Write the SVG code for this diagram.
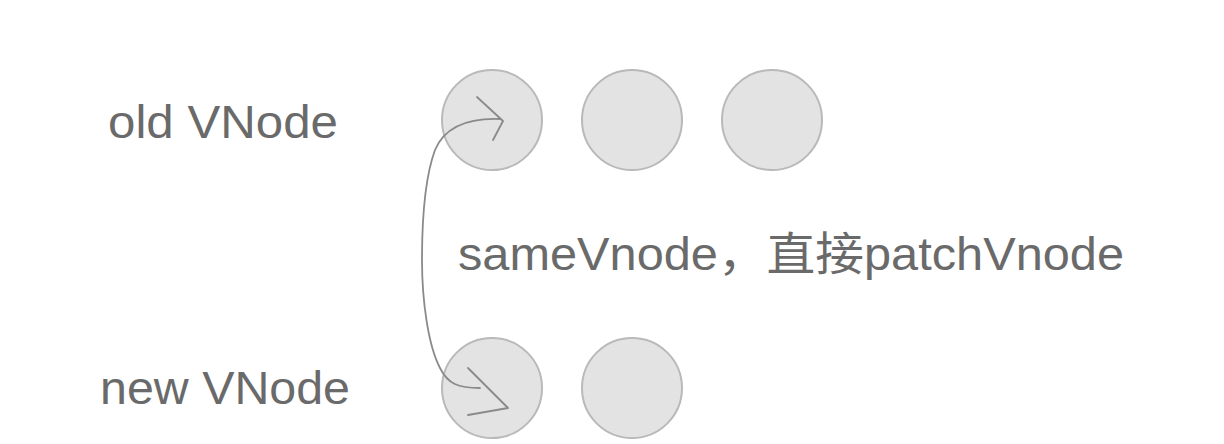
<svg xmlns="http://www.w3.org/2000/svg" width="1224" height="444" viewBox="0 0 1224 444">
<style>
.bg{fill:#ffffff}
.node{fill:#e3e3e3;stroke:#b9b9b9;stroke-width:2}
.lbl{font-family:"Liberation Sans","Noto Sans CJK SC",sans-serif;fill:#6a6a6a;font-size:46px}
.conn{fill:none;stroke:#8a8a8a;stroke-width:1.8;stroke-linecap:round;stroke-linejoin:round}
</style>
<rect class="bg" x="0" y="0" width="1224" height="444"/>
<g id="labels">
<text class="lbl" x="108" y="138" textLength="230" lengthAdjust="spacingAndGlyphs">old VNode</text>
<text class="lbl" x="100" y="404" textLength="250" lengthAdjust="spacingAndGlyphs">new VNode</text>
<text class="lbl" x="458" y="270" textLength="666" lengthAdjust="spacingAndGlyphs">sameVnode，直接patchVnode</text>
</g>
<g id="old1"><circle class="node" cx="492" cy="120" r="50"/></g>
<g id="old2"><circle class="node" cx="632" cy="120" r="50"/></g>
<g id="old3"><circle class="node" cx="772" cy="120" r="50"/></g>
<g id="new1"><circle class="node" cx="492" cy="388" r="50"/></g>
<g id="new2"><circle class="node" cx="632" cy="388" r="50"/></g>
<g id="connectors">
<path class="conn" d="M500,119 C470,118 445,126 435,150 C424,180 422,230 422,260 C422,300 428,345 440,368 C448,384 458,388 480,388"/>
<path class="conn" d="M477,97 L503,121 L493,140"/>
<path class="conn" d="M468,368 L508,408 L468,415"/>
</g>
</svg>
